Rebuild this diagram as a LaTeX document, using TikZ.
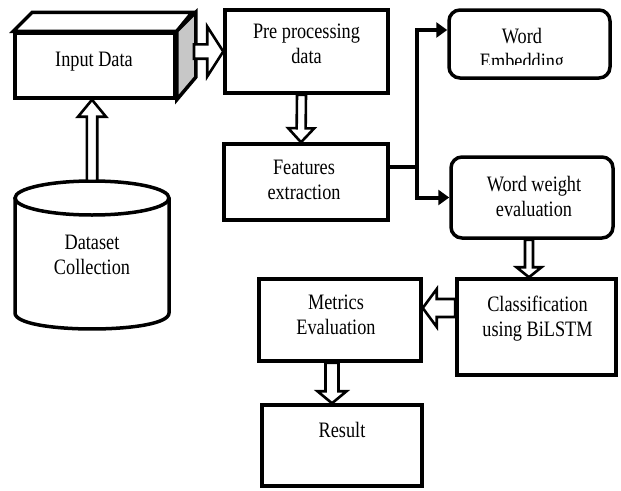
\documentclass[tikz,border=0pt]{standalone}
\usepackage{fontspec}
\setmainfont{Liberation Serif}[FakeStretch=0.83]
\usetikzlibrary{calc,arrows.meta}
\tikzset{
  box/.style={draw, line width=3.5pt, inner sep=0pt, fill=white},
  rbox/.style={box, rounded corners=11pt},
  lbl/.style={align=center, inner sep=0pt},
  conn/.style={line width=4pt},
  tipend/.style={-{Triangle[length=11pt,width=15pt]}},
  facestyle/.style={line width=3.5pt},
  fat/.style n args={3}{draw, fill=white, line width=2.6pt, line join=miter,
    to path={let \p1=(\tikztostart), \p2=(\tikztotarget), \p3=($(\p2)!#3!(\p1)$) in
      ($(\p1)!#1!90:(\p2)$) -- ($(\p3)!#1!90:(\p2)$) -- ($(\p3)!#2!90:(\p2)$) -- (\p2)
      -- ($(\p3)!#2!-90:(\p2)$) -- ($(\p3)!#1!-90:(\p2)$) -- ($(\p1)!#1!-90:(\p2)$) -- cycle}}
}
\begin{document}
\begin{tikzpicture}[x=1pt,y=-1pt,font=\fontsize{22}{25}\selectfont]
\fill[white] (0,0) rectangle (621,490);
\useasboundingbox (0,0) rectangle (621,490);

% Input Data cuboid
\node[box, minimum width=160pt, minimum height=65pt] (input) at (95,65.5) {};
\draw[facestyle, fill=white] (input.north west) -- ++(19,-19) -- ++(160,0) -- (input.north east) -- cycle;
\draw[facestyle, fill=black!22] (input.north east) -- ++(19,-19) -- ++(0,65) -- (input.south east) -- cycle;
\node[lbl] (inputtext) at (94,62) {Input Data};
\coordinate (inputR) at (194,51.5);

% Dataset cylinder
\draw[facestyle, fill=white] (15,198) -- (15,313) .. controls (15,334.3) and (169,334.3) .. (169,313) -- (169,198);
\draw[facestyle, fill=white] (92,198) ellipse [x radius=77, y radius=17];
\node[lbl, minimum width=154pt, minimum height=148pt] (dataset) at (92,255) {Dataset\\Collection};

% Boxes
\node[box, minimum width=163pt, minimum height=83pt] (pre) at (306.5,51.5) {};
\node[lbl] (pretext) at (306.5,44) {Pre processing\\data};
\node[box, minimum width=164pt, minimum height=76pt] (feat) at (306,182) {};
\node[lbl] (feattext) at (304,180) {Features\\extraction};
\node[rbox, minimum width=161pt, minimum height=68pt] (we) at (529.5,44) {};
\begin{scope}
\clip (440,0) rectangle (621,64);
\node[lbl] (wetext) at (522,50.5) {Word\\Embedding};
\end{scope}
\node[rbox, minimum width=162pt, minimum height=81pt] (ww) at (532,197.5) {};
\node[lbl] (wwtext) at (534,196.5) {Word weight\\evaluation};
\node[box, minimum width=159pt, minimum height=96pt] (cls) at (536.5,327) {};
\node[lbl] (clstext) at (537.5,318.5) {Classification\\using BiLSTM};
\node[box, minimum width=162pt, minimum height=82pt] (met) at (340,320) {};
\node[lbl] (mettext) at (336,315) {Metrics\\Evaluation};
\node[box, minimum width=160pt, minimum height=81pt] (res) at (342,445.5) {};
\node[lbl] (restext) at (342,429.5) {Result};

% Hollow block arrows
\path[fat={7.2pt}{25pt}{16pt}] (inputR) to (pre.west);
\path[fat={5.2pt}{14pt}{17pt}] (dataset.north) to (dataset.north |- input.south);
\path[fat={4.5pt}{13pt}{14pt}] ([xshift=-5pt]pre.south) to ([xshift=-5pt]feat.north);
\path[fat={4pt}{12.5pt}{10pt}] ([xshift=-3pt]ww.south) to ([xshift=-3pt]ww.south |- cls.north);
\path[fat={9pt}{19pt}{14pt}] ([yshift=12pt]met.east -| cls.west) to ([yshift=12pt]met.east);
\path[fat={6.5pt}{14.5pt}{12pt}] ([xshift=-8pt]met.south) to ([xshift=-8pt]met.south |- res.north);

% Branching connector
\coordinate (br) at ($([yshift=15pt]feat.east)+(27,0)$);
\draw[conn, tipend] ([yshift=15pt]feat.east) -- (br) |- ([yshift=14pt]we.west);
\draw[conn, tipend] (br) |- (ww.west);
\end{tikzpicture}
\end{document}
